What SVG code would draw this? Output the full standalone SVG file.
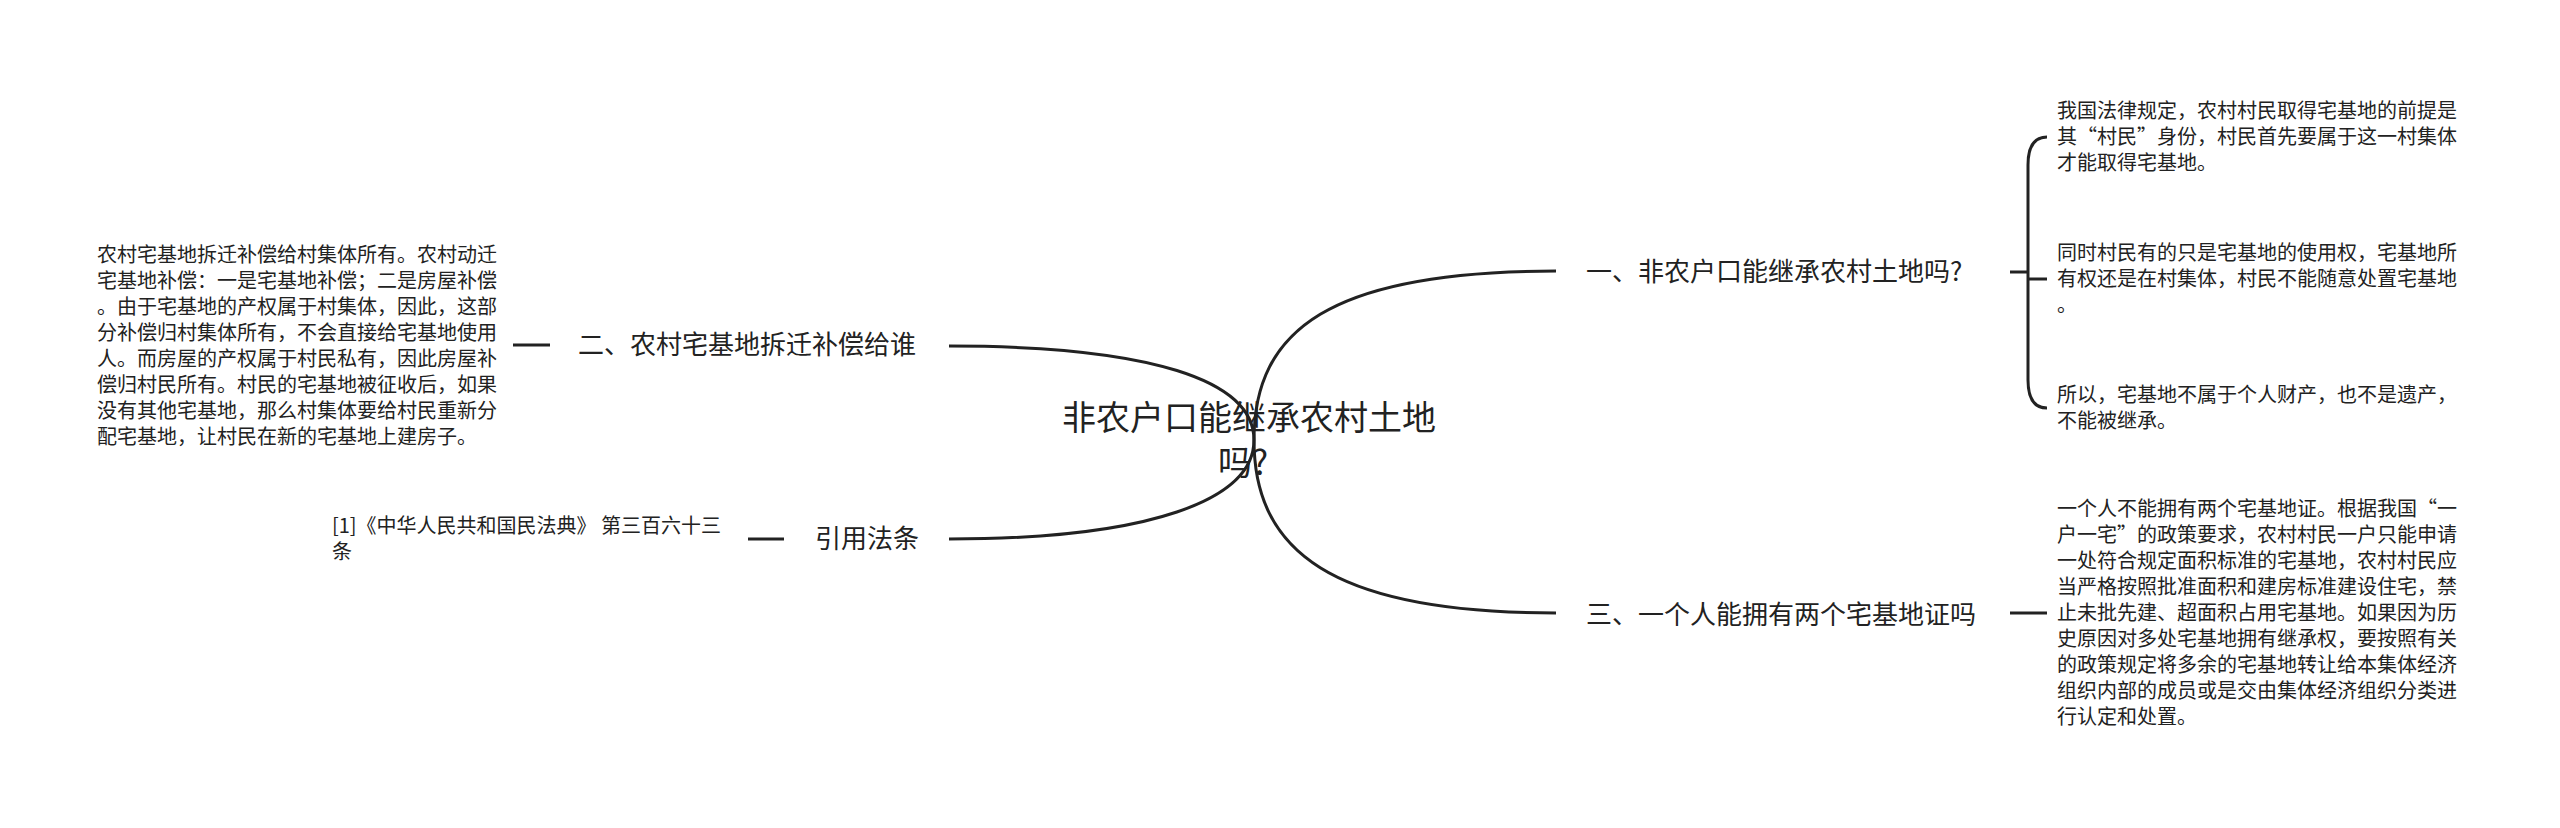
<svg xmlns="http://www.w3.org/2000/svg" width="2560" height="828" viewBox="0 0 2560 828">
<style>
text{font-family:"Noto Sans CJK SC","Noto Sans",sans-serif;fill:#222;}
.root{font-size:34px;}
.br{font-size:26px;}
.body{font-size:20px;}
.fw{font-feature-settings:"fwid" 1;}
.ln{fill:none;stroke:#222;stroke-width:3;}
</style>
<rect width="2560" height="828" fill="#fff"/>
<g id="connectors">
<path class="ln" d="M949,346 C1150,346 1254,380 1254,440"/>
<path class="ln" d="M949,539 C1150,539 1254,500 1254,440"/>
<path class="ln" d="M1254,440 C1254,330 1330,271 1556,271"/>
<path class="ln" d="M1254,440 C1254,550 1330,613 1556,613"/>
<path class="ln" d="M513,345 H550"/>
<path class="ln" d="M748,539 H784"/>
<path class="ln" d="M2010,272 H2028"/>
<path class="ln" d="M2047,137 Q2028,137 2028,165 V380 Q2028,408 2047,408"/>
<path class="ln" d="M2028,279 H2047"/>
<path class="ln" d="M2010,613 H2047"/>
</g>
<g id="root">
<text class="root" x="1062" y="430">非农户口能继承农村土地</text>
<text class="root" x="1218" y="475">吗?</text>
</g>
<g id="n1">
<text class="br" x="1586" y="281">一、非农户口能继承农村土地吗?</text>
</g>
<g id="n1a">
<text class="body" x="2057" y="118">我国法律规定，农村村民取得宅基地的前提是</text>
<text class="body" x="2057" y="144">其<tspan class="fw">“</tspan>村民<tspan class="fw">”</tspan>身份，村民首先要属于这一村集体</text>
<text class="body" x="2057" y="170">才能取得宅基地。</text>
</g>
<g id="n1b">
<text class="body" x="2057" y="260">同时村民有的只是宅基地的使用权，宅基地所</text>
<text class="body" x="2057" y="286">有权还是在村集体，村民不能随意处置宅基地</text>
<text class="body" x="2057" y="312">。</text>
</g>
<g id="n1c">
<text class="body" x="2057" y="402">所以，宅基地不属于个人财产，也不是遗产，</text>
<text class="body" x="2057" y="428">不能被继承。</text>
</g>
<g id="n3">
<text class="br" x="1586" y="624">三、一个人能拥有两个宅基地证吗</text>
</g>
<g id="n3a">
<text class="body" x="2057" y="516">一个人不能拥有两个宅基地证。根据我国<tspan class="fw">“</tspan>一</text>
<text class="body" x="2057" y="542">户一宅<tspan class="fw">”</tspan>的政策要求，农村村民一户只能申请</text>
<text class="body" x="2057" y="568">一处符合规定面积标准的宅基地，农村村民应</text>
<text class="body" x="2057" y="594">当严格按照批准面积和建房标准建设住宅，禁</text>
<text class="body" x="2057" y="620">止未批先建、超面积占用宅基地。如果因为历</text>
<text class="body" x="2057" y="646">史原因对多处宅基地拥有继承权，要按照有关</text>
<text class="body" x="2057" y="672">的政策规定将多余的宅基地转让给本集体经济</text>
<text class="body" x="2057" y="698">组织内部的成员或是交由集体经济组织分类进</text>
<text class="body" x="2057" y="724">行认定和处置。</text>
</g>
<g id="n2">
<text class="br" x="578" y="354">二、农村宅基地拆迁补偿给谁</text>
</g>
<g id="n2a">
<text class="body" x="97" y="262">农村宅基地拆迁补偿给村集体所有。农村动迁</text>
<text class="body" x="97" y="288">宅基地补偿：一是宅基地补偿；二是房屋补偿</text>
<text class="body" x="97" y="314">。由于宅基地的产权属于村集体，因此，这部</text>
<text class="body" x="97" y="340">分补偿归村集体所有，不会直接给宅基地使用</text>
<text class="body" x="97" y="366">人。而房屋的产权属于村民私有，因此房屋补</text>
<text class="body" x="97" y="392">偿归村民所有。村民的宅基地被征收后，如果</text>
<text class="body" x="97" y="418">没有其他宅基地，那么村集体要给村民重新分</text>
<text class="body" x="97" y="444">配宅基地，让村民在新的宅基地上建房子。</text>
</g>
<g id="n4">
<text class="br" x="815" y="548">引用法条</text>
</g>
<g id="n4a">
<text class="body" x="332" y="533">[1]《中华人民共和国民法典》 第三百六十三</text>
<text class="body" x="332" y="559">条</text>
</g>
</svg>
